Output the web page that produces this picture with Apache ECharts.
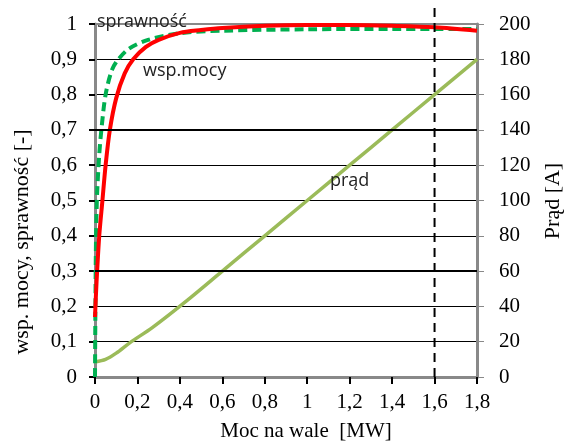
<!DOCTYPE html>
<html>
<head>
<meta charset="utf-8">
<script src="https://cdn.jsdelivr.net/npm/echarts@6/dist/echarts.min.js"></script>
<style>
  html, body { margin: 0; padding: 0; background: #fff; }
  #chart { width: 564px; height: 446px; }
</style>
</head>
<body>
<div id="chart"></div>
<script>
// moc na wale [MW] / wsp. mocy (czerwona)
var pfX = [0, 0.005, 0.01, 0.02, 0.035, 0.05, 0.07, 0.1, 0.14, 0.18, 0.24, 0.3, 0.4, 0.5, 0.6, 0.8, 1.0, 1.2, 1.4, 1.6, 1.8];
var pfY = [0.17, 0.24, 0.3, 0.4, 0.5, 0.6, 0.7, 0.79, 0.86, 0.9, 0.935, 0.955, 0.975, 0.983, 0.989, 0.995, 0.997, 0.997, 0.995, 0.991, 0.981];
// sprawność (zielona przerywana)
var effX = [0, 0.002, 0.005, 0.01, 0.02, 0.03, 0.05, 0.08, 0.11, 0.16, 0.25, 0.4, 0.6, 1.0, 1.4, 1.8];
var effY = [0, 0.2, 0.4, 0.52, 0.63, 0.7, 0.8, 0.87, 0.9, 0.93, 0.955, 0.974, 0.981, 0.985, 0.986, 0.986];
// prąd [A]
var curX = [0, 0.05, 0.1, 0.165, 0.27, 0.43, 0.6, 0.8, 1.0, 1.2, 1.4, 1.6, 1.8];
var curY = [8.5, 10, 13.5, 19.5, 28, 43, 60, 80, 100, 120, 140, 160, 180];

var thickGrid = [0.3, 0.7];
var ratedPower = 1.6;

function pairs(xs, ys) {
  return xs.map(function (x, i) { return [x, ys[i]]; });
}
function comma(v) {
  return String(+(+v).toFixed(1)).replace('.', ',');
}

var serif = 'Liberation Serif';
var sans = 'Open Sans';

var myChart = echarts.init(document.getElementById('chart'));
myChart.setOption({
  animation: false,
  grid: {
    left: 95, right: 87, top: 24, bottom: 69,
    show: true, borderColor: '#898989', borderWidth: 2
  },
  xAxis: {
    type: 'value', min: 0, max: 1.8, interval: 0.2,
    axisLine: { lineStyle: { color: '#898989', width: 3 } },
    axisTick: { show: true, length: 7, lineStyle: { color: '#000', width: 2 } },
    axisLabel: { color: '#000', fontFamily: serif, fontSize: 21, margin: 15, formatter: comma },
    splitLine: { show: false }
  },
  yAxis: [
    {
      type: 'value', min: 0, max: 1, interval: 0.1,
      axisLine: { show: true, lineStyle: { color: '#898989', width: 3 } },
      axisTick: { show: true, length: 6, lineStyle: { color: '#000', width: 2 } },
      axisLabel: { color: '#000', fontFamily: serif, fontSize: 21, margin: 18, formatter: comma },
      splitLine: { show: true, showMaxLine: false, lineStyle: { color: '#000', width: 1 } }
    },
    {
      type: 'value', min: 0, max: 200, interval: 20,
      axisLine: { show: true, lineStyle: { color: '#898989', width: 3 } },
      axisTick: { show: true, length: 7, lineStyle: { color: '#898989', width: 1 } },
      axisLabel: { color: '#000', fontFamily: serif, fontSize: 21, margin: 22 },
      splitLine: { show: false }
    }
  ],
  series: [
    {
      name: 'prąd', type: 'line', yAxisIndex: 1,
      data: pairs(curX, curY),
      smooth: 0.3, showSymbol: false,
      lineStyle: { color: '#9BBB59', width: 3.5 },
      markLine: {
        silent: true, symbol: 'none', label: { show: false },
        lineStyle: { color: '#000', width: 2, type: 'solid' },
        data: thickGrid.map(function (v) { return { yAxis: v * 200 }; })
      }
    },
    {
      name: 'sprawność', type: 'line', yAxisIndex: 0,
      data: pairs(effX, effY),
      smooth: 0.3, showSymbol: false,
      lineStyle: { color: '#00B050', width: 4, type: [9, 5] }
    },
    {
      name: 'wsp.mocy', type: 'line', yAxisIndex: 0,
      data: pairs(pfX, pfY),
      smooth: 0.3, showSymbol: false,
      lineStyle: { color: '#FF0000', width: 4 }
    }
  ]
});

// pionowa linia przerywana dla mocy znamionowej
var px = myChart.convertToPixel({ xAxisIndex: 0 }, ratedPower);
var py0 = myChart.convertToPixel({ yAxisIndex: 0 }, 0);
var py1 = myChart.convertToPixel({ yAxisIndex: 0 }, 1);

myChart.setOption({
  graphic: [
    {
      type: 'line', z: 50,
      shape: { x1: px, y1: py0, x2: px, y2: py1 - 16 },
      style: { stroke: '#000', lineWidth: 2, lineDash: [9, 6] }
    },
    {
      type: 'text', left: 97, top: 13, z: 60,
      style: { text: 'sprawność', font: '18px "' + sans + '"', fill: '#222' }
    },
    {
      type: 'text', left: 143, top: 62, z: 60,
      style: { text: 'wsp.mocy', font: '18px "' + sans + '"', fill: '#222' }
    },
    {
      type: 'text', left: 330, top: 172, z: 60,
      style: { text: 'prąd', font: '18px "' + sans + '"', fill: '#222' }
    },
    {
      type: 'text', x: 22, y: 242, rotation: Math.PI / 2, z: 60,
      style: {
        text: 'wsp. mocy, sprawność [-]', font: '22px "' + serif + '"', fill: '#000',
        align: 'center', verticalAlign: 'middle'
      }
    },
    {
      type: 'text', x: 553, y: 201, rotation: Math.PI / 2, z: 60,
      style: {
        text: 'Prąd [A]', font: '22px "' + serif + '"', fill: '#000',
        align: 'center', verticalAlign: 'middle'
      }
    },
    {
      type: 'text', x: 306, y: 431, z: 60,
      style: {
        text: 'Moc na wale  [MW]', font: '21px "' + serif + '"', fill: '#000',
        align: 'center', verticalAlign: 'middle'
      }
    }
  ]
});
</script>
</body>
</html>
